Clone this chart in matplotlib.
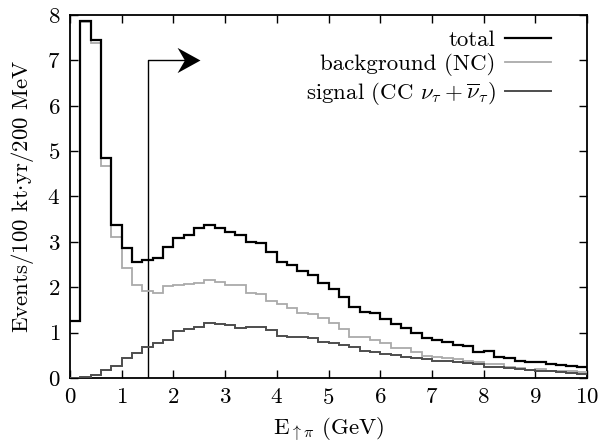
import numpy as np
import matplotlib
matplotlib.use('Agg')
import matplotlib.pyplot as plt
from matplotlib.path import Path

plt.rcParams['font.family'] = 'cmr10'
plt.rcParams['mathtext.fontset'] = 'cm'
plt.rcParams['axes.formatter.use_mathtext'] = True

# 200 MeV bins from 0 to 10 GeV
edges = np.linspace(0, 10, 51)

total = [1.26, 7.87, 7.46, 4.85, 3.36, 2.86, 2.56, 2.60, 2.64, 2.88,
         3.09, 3.15, 3.30, 3.36, 3.30, 3.22, 3.15, 3.00, 2.97, 2.77,
         2.56, 2.49, 2.36, 2.27, 2.10, 1.96, 1.79, 1.57, 1.46, 1.42,
         1.30, 1.19, 1.09, 0.98, 0.87, 0.84, 0.78, 0.73, 0.70, 0.58,
         0.60, 0.46, 0.43, 0.38, 0.36, 0.36, 0.31, 0.29, 0.27, 0.25]

background = [1.26, 7.85, 7.39, 4.68, 3.11, 2.43, 2.05, 1.92, 1.87, 2.02,
              2.05, 2.07, 2.10, 2.15, 2.11, 2.05, 2.05, 1.88, 1.85, 1.70,
              1.62, 1.55, 1.44, 1.41, 1.31, 1.20, 1.07, 0.91, 0.89, 0.84,
              0.76, 0.65, 0.65, 0.57, 0.49, 0.45, 0.43, 0.42, 0.38, 0.36,
              0.31, 0.30, 0.23, 0.21, 0.18, 0.19, 0.15, 0.14, 0.14, 0.12]

signal = [0.00, 0.02, 0.07, 0.17, 0.26, 0.43, 0.54, 0.67, 0.76, 0.83,
          1.03, 1.07, 1.12, 1.20, 1.19, 1.17, 1.10, 1.12, 1.13, 1.06,
          0.93, 0.91, 0.89, 0.87, 0.80, 0.76, 0.73, 0.67, 0.59, 0.58,
          0.52, 0.51, 0.45, 0.43, 0.41, 0.37, 0.37, 0.34, 0.33, 0.30,
          0.25, 0.23, 0.21, 0.19, 0.18, 0.15, 0.14, 0.12, 0.10, 0.08]

cut = 1.5  # GeV

fs = 16.5
fig = plt.figure(figsize=(6, 4.44), dpi=100)
ax = fig.add_axes([0.1167, 0.149, 0.8616, 0.817])

ax.stairs(total, edges, baseline=None, color='black', lw=1.6, label='total',
          zorder=4)
ax.stairs(background, edges, baseline=None, color='#aaaaaa', lw=1.3,
          label='background (NC)', zorder=3)
ax.stairs(signal, edges, baseline=None, color='#4d4d4d', lw=1.4,
          label=r'signal (CC $\nu_\tau+\overline{\nu}_\tau$)', zorder=3)

# cut marker with arrow
ax.plot([cut, cut, 2.3], [0, 7, 7], color='black', lw=1.0)
head = Path([(0, 0), (-1, 0.55), (-0.68, 0), (-1, -0.55), (0, 0)],
            [Path.MOVETO, Path.LINETO, Path.LINETO, Path.LINETO, Path.CLOSEPOLY])
ax.plot([2.52], [7], marker=head, markersize=33, color='black', mew=0)

ax.set_xlim(0, 10)
ax.set_ylim(0, 8)
ax.set_xticks(range(0, 11))
ax.set_yticks(range(0, 9))
ax.tick_params(direction='in', top=True, right=True, length=6, width=1.0,
               labelsize=fs, pad=7)
for s in ax.spines.values():
    s.set_linewidth(1.3)

ax.set_xlabel(r'E$_{\uparrow\pi}$ (GeV)', fontsize=fs, labelpad=6)
ax.set_ylabel('Events/100 kt$\\cdot$yr/200 MeV', fontsize=fs, labelpad=8)

ax.legend(loc='upper right', bbox_to_anchor=(0.93, 0.96), frameon=False,
          markerfirst=False, fontsize=fs, handlelength=2.0, handletextpad=0.4,
          labelspacing=0.15, borderpad=0, borderaxespad=0)

fig.savefig('out.png', dpi=100)
